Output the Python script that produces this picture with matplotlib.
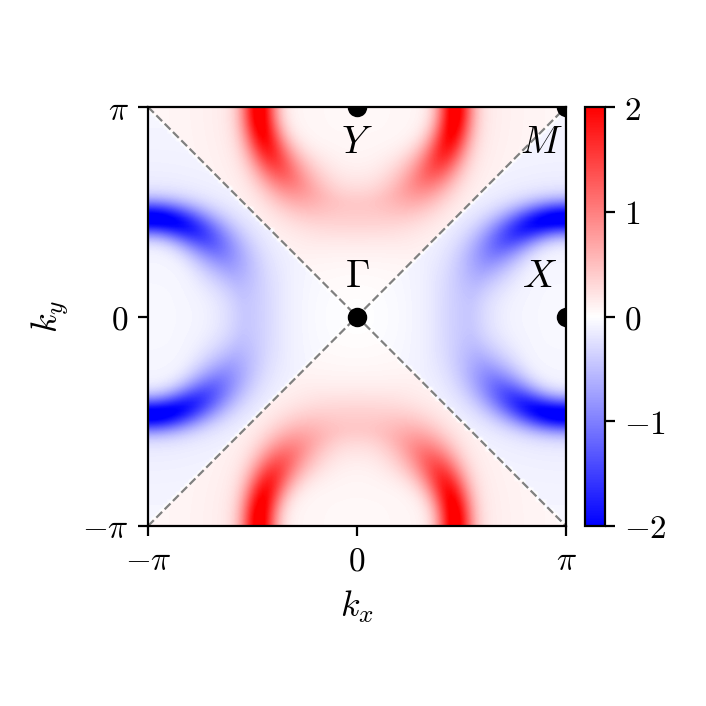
import numpy as np
import matplotlib
matplotlib.use("Agg")
import matplotlib.pyplot as plt

plt.rcParams['mathtext.fontset'] = 'cm'
plt.rcParams['font.family'] = 'serif'
plt.rcParams['font.serif'] = ['DejaVu Serif']
plt.rcParams['font.size'] = 12

# ---- data ----
grid_points = 100
ring_radius = 1.47            # radius of the arcs around Y/X (rad)
ring_sigma = [0.18, 0.34]     # width at boundary side, width toward Gamma
ring_amplitude = [1.95, 0.18] # amplitude at boundary side, toward Gamma
angle_power = 2.5
halo_amplitude = 0.2
halo_width = [0.25, 0.55]     # inside the arc, outside the arc
base_level = 0.05
color_limits = [-2, 2]
cbar_ticks = [-2, -1, 0, 1, 2]
axis_ticks = [-np.pi, 0, np.pi]
axis_ticklabels = [r'$-\pi$', r'$0$', r'$\pi$']
point_names = [r'$\Gamma$', r'$X$', r'$Y$', r'$M$']
point_kx = [0, np.pi, 0, np.pi]
point_ky = [0, 0, np.pi, np.pi]
label_kx = [0, 2.75, 0, 2.77]
label_ky = [0.6, 0.6, 2.61, 2.61]

# ---- field ----
h = 2 * np.pi / grid_points
k = -np.pi + h / 2 + h * np.arange(grid_points)
KX, KY = np.meshgrid(k, k)
KR = np.hypot(KX, KY)


def arc_weight(a, b):
    dy = np.pi - np.abs(b)
    r = np.hypot(a, dy)
    phi = np.arctan2(dy, np.abs(a))
    c = np.cos(phi) ** angle_power
    amp = ring_amplitude[1] + (ring_amplitude[0] - ring_amplitude[1]) * c
    sig = ring_sigma[1] + (ring_sigma[0] - ring_sigma[1]) * np.cos(phi) ** 2
    d = r - ring_radius
    core = amp * np.exp(-d ** 2 / (2 * sig ** 2))
    w = np.where(d < 0, halo_width[0], halo_width[1])
    halo = halo_amplitude * w ** 2 / (d ** 2 + w ** 2)
    fade = np.clip(KR / 1.3, 0, 1)
    return core + (halo + base_level) * fade


top = np.abs(KY) >= np.abs(KX)
Z = np.where(top, arc_weight(KX, KY), -arc_weight(KY, KX))

fig = plt.figure(figsize=(3.53, 3.53), dpi=200)
ax = fig.add_axes([148 / 706, 1 - 526 / 706, 418 / 706, 419 / 706])
cax = fig.add_axes([585 / 706, 1 - 526 / 706, 20 / 706, 419 / 706])

im = ax.imshow(Z, origin='lower', extent=[-np.pi, np.pi, -np.pi, np.pi],
               cmap='bwr', vmin=color_limits[0], vmax=color_limits[1],
               interpolation='bilinear', aspect='auto')
ax.plot([-np.pi, np.pi], [-np.pi, np.pi], ls='--', color='gray', lw=0.8)
ax.plot([-np.pi, np.pi], [np.pi, -np.pi], ls='--', color='gray', lw=0.8)
ax.plot(point_kx, point_ky, 'o', color='black', ms=6, clip_on=True)
for name, x, y in zip(point_names, label_kx, label_ky):
    ax.text(x, y, name, ha='center', va='center', fontsize=14)

ax.set_xlim(-np.pi, np.pi)
ax.set_ylim(-np.pi, np.pi)
ax.set_xticks(axis_ticks)
ax.set_xticklabels(axis_ticklabels)
ax.set_yticks(axis_ticks)
ax.set_yticklabels(axis_ticklabels)
ax.set_xlabel(r'$k_x$', fontsize=13)
ax.set_ylabel(r'$k_y$', fontsize=13)

cb = fig.colorbar(im, cax=cax, ticks=cbar_ticks)
cb.ax.set_yticklabels([r'$%d$' % t for t in cbar_ticks])

fig.savefig('out.png', dpi=200)
